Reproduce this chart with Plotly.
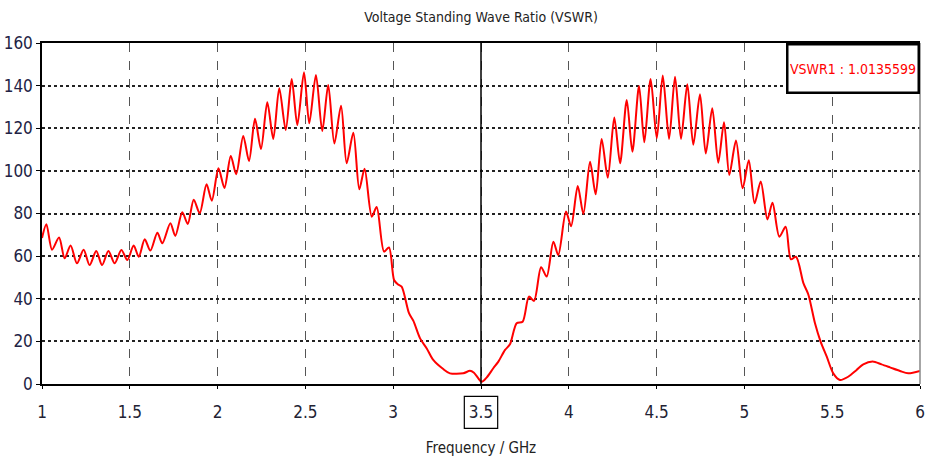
import plotly.graph_objects as go

# VSWR sweep, frequency in GHz
freq_ghz = [
    1.000, 1.025, 1.057, 1.097, 1.129, 1.163, 1.199, 1.237, 1.271, 1.309,
    1.342, 1.378, 1.414, 1.452, 1.486, 1.522, 1.551, 1.585, 1.617, 1.657,
    1.685, 1.731, 1.759, 1.799, 1.830, 1.864, 1.898, 1.937, 1.967, 2.005,
    2.039, 2.075, 2.106, 2.146, 2.179, 2.213, 2.247, 2.283, 2.317, 2.351,
    2.388, 2.422, 2.454, 2.492, 2.522, 2.560, 2.596, 2.630, 2.665, 2.703,
    2.735, 2.773, 2.807, 2.837, 2.878, 2.906, 2.948, 2.976, 3.005, 3.026,
    3.048, 3.090, 3.115, 3.153, 3.191, 3.228, 3.285, 3.323, 3.399, 3.437,
    3.460, 3.504, 3.532, 3.570, 3.599, 3.637, 3.665, 3.703, 3.737, 3.773,
    3.802, 3.842, 3.874, 3.912, 3.940, 3.984, 4.013, 4.051, 4.083, 4.121,
    4.153, 4.187, 4.222, 4.259, 4.292, 4.330, 4.362, 4.400, 4.430, 4.466,
    4.501, 4.535, 4.571, 4.605, 4.639, 4.675, 4.709, 4.747, 4.780, 4.817,
    4.851, 4.884, 4.914, 4.952, 4.990, 5.025, 5.058, 5.093, 5.131, 5.160,
    5.199, 5.235, 5.265, 5.294, 5.336, 5.364, 5.402, 5.434, 5.469, 5.506,
    5.544, 5.591, 5.639, 5.677, 5.730, 5.781, 5.829, 5.886, 5.933, 6.000,
]
vswr = [
    68.5, 75.0, 63.0, 68.7, 59.0, 65.0, 56.6, 63.0, 55.8, 62.4,
    55.8, 62.4, 56.6, 62.9, 58.2, 65.0, 59.7, 67.9, 62.6, 71.0,
    66.0, 75.4, 69.5, 80.6, 75.1, 86.5, 80.1, 93.7, 86.0, 101.2,
    92.0, 107.0, 98.4, 116.4, 104.6, 124.4, 110.3, 132.2, 115.0, 138.8,
    119.2, 143.1, 121.5, 146.3, 122.3, 145.0, 118.7, 140.3, 112.9, 130.6,
    103.6, 117.9, 91.4, 101.0, 78.5, 83.0, 62.1, 64.1, 48.8, 46.8,
    45.7, 33.2, 29.6, 21.4, 16.7, 11.3, 7.0, 5.0, 5.0, 6.2,
    5.3, 1.0, 3.0, 7.4, 10.5, 16.0, 18.6, 28.5, 29.2, 41.0,
    39.0, 54.8, 50.4, 66.8, 60.5, 80.9, 74.0, 92.9, 79.8, 104.3,
    89.0, 115.0, 96.8, 125.0, 103.6, 133.3, 109.0, 139.8, 113.4, 143.1,
    115.3, 144.7, 115.0, 144.2, 115.0, 140.6, 112.2, 135.9, 108.2, 129.4,
    103.8, 122.8, 98.1, 114.2, 91.8, 105.0, 84.8, 95.0, 77.2, 85.1,
    69.1, 73.8, 58.5, 59.7, 47.3, 42.0, 28.5, 19.9, 12.8, 5.0,
    1.9, 3.4, 6.6, 9.2, 10.5, 9.2, 7.8, 6.1, 5.0, 6.1,
]

x_ticks = [1, 1.5, 2, 2.5, 3, 3.5, 4, 4.5, 5, 5.5, 6]
y_ticks = [0, 20, 40, 60, 80, 100, 120, 140, 160]
marker_freq = 3.5
marker_label = "VSWR1 : 1.0135599"

FONT = "DejaVu Sans Condensed, Liberation Sans Narrow, sans-serif"

fig = go.Figure()
fig.add_trace(go.Scatter(
    x=freq_ghz, y=vswr, mode="lines",
    line=dict(color="#ff0000", width=2, shape="spline", smoothing=0.8),
    showlegend=False, hoverinfo="x+y",
))

# marker line at the selected frequency
fig.add_shape(type="line", xref="x", yref="paper", x0=marker_freq, x1=marker_freq,
              y0=0, y1=1, line=dict(color="black", width=1.5), layer="above")
# frame around the marker's tick label
fig.add_shape(type="rect", xref="x", yref="paper",
              x0=marker_freq - 0.095, x1=marker_freq + 0.095, y0=-0.13, y1=-0.036,
              line=dict(color="black", width=1.2))
# right border
fig.add_shape(type="line", xref="paper", yref="paper", x0=1, x1=1, y0=0, y1=1,
              line=dict(color="#888888", width=1.5))

fig.add_annotation(
    text=marker_label, xref="paper", yref="paper", x=1.0, y=1.0,
    xanchor="right", yanchor="top", showarrow=False,
    font=dict(family=FONT, size=14, color="#ff0000"),
    bgcolor="white", bordercolor="black", borderwidth=2.5,
    width=127, height=44,
)

fig.update_layout(
    width=925, height=461,
    margin=dict(l=42, r=5, t=43, b=77, autoexpand=False),
    paper_bgcolor="white", plot_bgcolor="white",
    title=dict(text="Voltage Standing Wave Ratio (VSWR)", x=0.52, xanchor="center",
               y=0.962, yanchor="middle",
               font=dict(family=FONT, size=14, color="#222222")),
    font=dict(family=FONT, size=16, color="#222244"),
)
fig.update_xaxes(
    range=[1, 6], tickvals=x_ticks, ticktext=[str(v) for v in x_ticks],
    showgrid=True, gridcolor="#555555", griddash="dash", gridwidth=1.2,
    showline=True, linecolor="black", linewidth=2, mirror=True,
    ticks="outside", ticklen=3, tickcolor="black", ticklabelstandoff=9,
    zeroline=False, automargin=False,
    title=dict(text="Frequency / GHz", font=dict(family=FONT, size=15, color="#222222"),
               standoff=21),
    tickfont=dict(family=FONT, size=17, color="#222233"),
)
fig.update_yaxes(
    range=[0, 160], tickvals=y_ticks,
    showgrid=True, gridcolor="#222222", griddash="dot", gridwidth=1.5,
    showline=True, linecolor="black", linewidth=1.5,
    ticks="outside", ticklen=4, tickcolor="black",
    zeroline=False, automargin=False,
    tickfont=dict(family=FONT, size=17, color="#222244"),
)

fig.write_html("out.html")
